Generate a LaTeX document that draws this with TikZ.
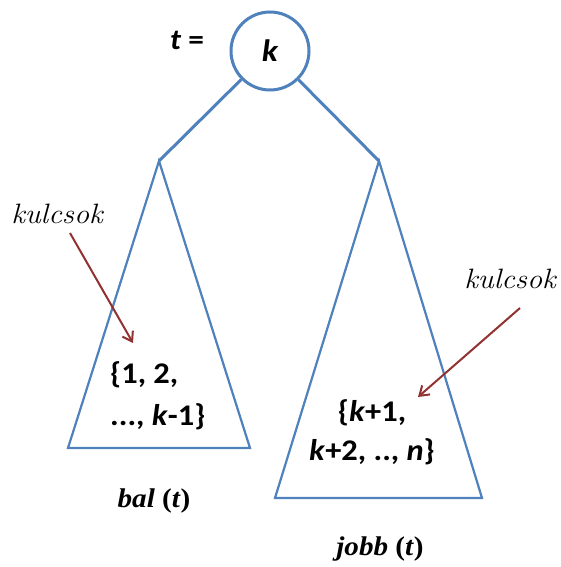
\documentclass[tikz,border=0pt]{standalone}
\usepackage{fontspec}
\usepackage{graphicx}
\usetikzlibrary{arrows.meta}
\newfontfamily\calfont{Carlito}
\newfontfamily\tmsfont{Liberation Serif}
\definecolor{tblue}{RGB}{79,129,189}
\definecolor{ared}{RGB}{145,50,50}
\newcommand\wide[1]{\scalebox{1.08}[1]{#1}}
\begin{document}
\begin{tikzpicture}[x=1pt,y=-1pt,
  tri/.style={draw=tblue,line width=2.2pt,line join=miter},
  edge/.style={draw=tblue,line width=3pt},
  arr/.style={draw=ared,line width=2pt,-{Straight Barb[length=9pt,width=12pt,line width=2pt]}},
  setlbl/.style={font=\calfont\bfseries\fontsize{30}{42}\selectfont,inner sep=0pt},
  keylbl/.style={font=\fontsize{28}{30}\selectfont\itshape,inner sep=0pt},
  sublbl/.style={font=\tmsfont\bfseries\fontsize{27}{30}\selectfont,inner sep=0pt}]
\useasboundingbox (0,0) rectangle (560,567);
\fill[white] (0,0) rectangle (560,567);
% root
\node[circle,draw=tblue,line width=3pt,minimum size=78pt,inner sep=0pt,
  font=\calfont\bfseries\itshape\fontsize{31}{33}\selectfont] (root) at (270,51) {\wide{k}};
\node[font=\calfont\bfseries\fontsize{29}{30}\selectfont,inner sep=0pt] (teq) at (187,40) {\wide{\textit{t} =}};
% subtree apexes and bases
\coordinate (la) at (159,161);
\coordinate (lbl) at (68,448);
\coordinate (lbr) at (250,448);
\coordinate (ra) at (379,161);
\coordinate (rbl) at (275,498);
\coordinate (rbr) at (482,498);
\draw[tri] (la) -- (lbl) -- (lbr) -- cycle;
\draw[tri] (ra) -- (rbl) -- (rbr) -- cycle;
\draw[edge] (root) -- (la);
\draw[edge] (root) -- (ra);
% key sets
\node[setlbl,align=left,anchor=west] (lset) at (110,396) {\wide{\{1, 2,}\\\wide{..., \textit{k}-1\}}};
\node[setlbl,align=center,font=\calfont\bfseries\fontsize{30}{39}\selectfont] (rset) at (372,432) {\wide{\{\textit{k}+1,}\\\wide{\textit{k}+2, .., \textit{n}\}}};
% kulcsok labels
\node[keylbl] (kl) at (57,214) {\wide{kulcsok}};
\node[keylbl] (kr) at (510,279) {\wide{kulcsok}};
\coordinate (ls) at (70,233);
\coordinate (lt) at (133,343);
\coordinate (rs) at (520,308);
\coordinate (rt) at (418,397);
\draw[arr] (ls) -- (lt);
\draw[arr] (rs) -- (rt);
% subtree names
\node[sublbl] (bal) at (154,501) {\wide{\textit{bal} (\textit{t})}};
\node[sublbl] (jobb) at (380,549) {\wide{\textit{jobb} (\textit{t})}};
\end{tikzpicture}
\end{document}
